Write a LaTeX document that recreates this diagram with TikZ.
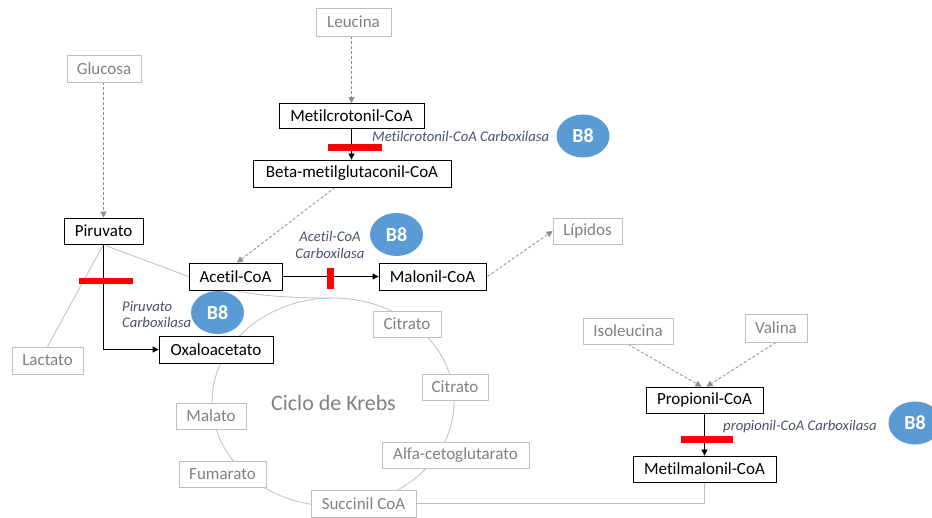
\documentclass[tikz,border=0pt]{standalone}
\usepackage{fontspec}
\setmainfont{Carlito}[Ligatures={NoCommon}]
\usetikzlibrary{arrows.meta,shapes.geometric,calc}
\definecolor{boxgray}{HTML}{BFBFBF}
\definecolor{txtgray}{HTML}{808080}
\definecolor{linegray}{HTML}{BFBFBF}
\definecolor{dashgray}{HTML}{8C8C8C}
\definecolor{lblblue}{HTML}{44546A}
\definecolor{bblue}{HTML}{5B9BD5}
\definecolor{barred}{HTML}{FF0000}
\pgfdeclarelayer{bg}
\pgfsetlayers{bg,main}
\tikzset{
  nodebase/.style={draw, fill=white, inner sep=0pt, line width=0.8pt, font=\fontsize{17}{20}\selectfont},
  blk/.style={nodebase, draw=black, text=black},
  gry/.style={nodebase, draw=boxgray, text=txtgray},
  bsz/.style n args={2}{minimum width=#1pt, minimum height=#2pt},
  btag/.style={ellipse, fill=bblue, minimum width=53pt, minimum height=43pt, inner sep=0pt, text=white, font=\bfseries\fontsize{20}{22}\selectfont},
  enz/.style={text=lblblue, inner sep=0pt, font=\itshape\fontsize{14.7}{16.5}\selectfont},
  redbar/.style={fill=barred, draw=none, inner sep=0pt},
  tip/.style={-{Triangle[length=6pt,width=6pt]}},
  blkarrow/.style={tip, draw=black, line width=0.8pt},
  dasharrow/.style={tip, draw=dashgray, line width=0.8pt, dash pattern=on 3pt off 2pt},
  grayline/.style={draw=linegray, line width=0.8pt},
}
\begin{document}
\begin{tikzpicture}[x=1pt,y=-1pt]
\useasboundingbox (0,0) rectangle (932,518);
% nodes
\node[gry, bsz={75}{28}] (leu) at (353.5,22) {Leucina};
\node[gry, bsz={74}{27}] (glu) at (104,68.5) {Glucosa};
\node[blk, bsz={145}{25}] (mc) at (351.5,116) {Metilcrotonil-CoA};
\node[blk, bsz={198}{27}] (beta) at (352,173.5) {Beta-metilglutaconil-CoA};
\node[blk, bsz={79}{26}] (piru) at (103.5,231) {Piruvato};
\node[blk, bsz={93}{27}] (acetil) at (235.5,276.5) {Acetil-CoA};
\node[blk, bsz={107}{27}] (malonil) at (432.5,276.5) {Malonil-CoA};
\node[gry, bsz={69}{26}] (lip) at (587.5,231) {Lípidos};
\node[blk, bsz={114}{27}] (oxa) at (216,349.5) {Oxaloacetato};
\node[gry, bsz={71}{27}] (lac) at (47.5,360.5) {Lactato};
\node[gry, bsz={68}{26}] (cit1) at (407,324) {Citrato};
\node[gry, bsz={66}{26}] (cit2) at (455,387) {Citrato};
\node[gry, bsz={147}{26}] (alfa) at (455.5,455) {Alfa-cetoglutarato};
\node[gry, bsz={105}{27}] (succ) at (363.5,503.5) {Succinil CoA};
\node[gry, bsz={87}{26}] (fum) at (222.5,474) {Fumarato};
\node[gry, bsz={70}{26}] (mal) at (211,416) {Malato};
\node[gry, bsz={90}{26}] (iso) at (628,331) {Isoleucina};
\node[gry, bsz={62}{28}] (val) at (776,328) {Valina};
\node[blk, bsz={117}{26}] (prop) at (704.5,400) {Propionil-CoA};
\node[blk, bsz={143}{26}] (mm) at (704.5,469) {Metilmalonil-CoA};
\node[text=txtgray, inner sep=0pt, font=\fontsize{22}{26}\selectfont] (krebs) at (333.5,403) {Ciclo de Krebs};
\coordinate (ktop) at (333,298);
% connectors
\begin{pgfonlayer}{bg}
\draw[grayline] (333,402) ellipse [x radius=121pt, y radius=104pt];
\draw[grayline] (acetil.south) .. controls (258,296) and (292,298) .. (ktop);
\draw[grayline] (piru.south) -- (lac.north);
\draw[grayline] ($(piru.south)+(1.5,1)$) -- (acetil.west);
\draw[grayline] (mm.south) |- (succ.east);
\draw[dasharrow] (leu.south -| mc.north) -- (mc.north);
\draw[dasharrow] (glu.south -| piru.north) -- (piru.north);
\draw[dasharrow] ($(beta.south)+(-17,0)$) -- ($(acetil.north)+(1.5,0)$);
\draw[dasharrow] ($(malonil.east)+(1,0)$) -- (lip.west);
\draw[dasharrow] (iso.south) -- ($(prop.north)+(-3,0)$);
\draw[dasharrow] (val.south) -- ($(prop.north)+(2,0)$);
\draw[blkarrow] (mc.south) -- (mc.south |- beta.north);
\draw[blkarrow] (piru.south) |- (oxa.west);
\draw[blkarrow] (acetil.east) -- (malonil.west);
\draw[blkarrow] (prop.south) -- (prop.south |- mm.north);
\end{pgfonlayer}
% inhibition bars
\node[redbar, minimum width=54pt, minimum height=7pt] (bar1) at (355,147.5) {};
\node[redbar, minimum width=54pt, minimum height=6pt] (bar2) at (106,281) {};
\node[redbar, minimum width=7pt, minimum height=21pt] (bar3) at (330,278.5) {};
\node[redbar, minimum width=52pt, minimum height=7pt] (bar4) at (707,440) {};
% enzyme labels
\node[enz, anchor=west] (e1) at (372,136) {Metilcrotonil-CoA Carboxilasa};
\node[enz, align=center] (e2) at (330,245) {Acetil-CoA\\Carboxilasa};
\node[enz, align=left, anchor=west] (e3) at (122,314.5) {Piruvato\\Carboxilasa};
\node[enz, anchor=west] (e4) at (723,427) {propionil-CoA Carboxilasa};
% B8 tags
\node[btag] (b1) at (583,136) {B8};
\node[btag] (b2) at (396.5,234.5) {B8};
\node[btag] (b3) at (217.5,312.5) {B8};
\node[btag] (b4) at (915,423) {B8};
\end{tikzpicture}
\end{document}
